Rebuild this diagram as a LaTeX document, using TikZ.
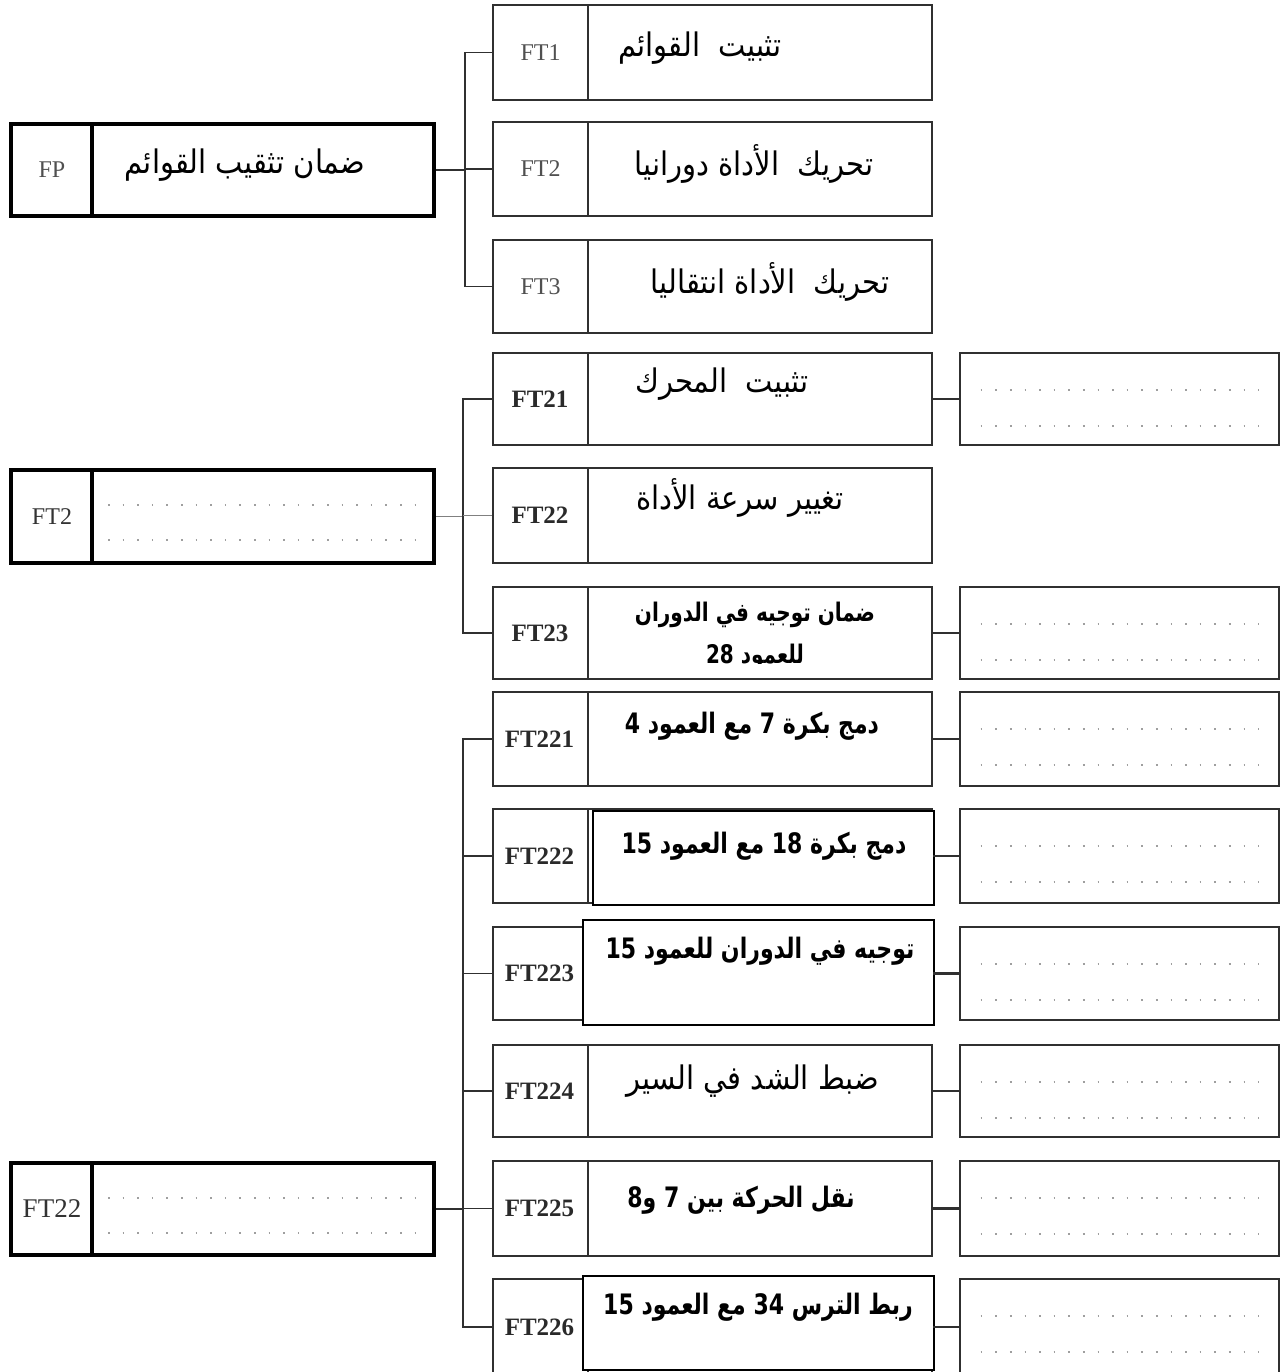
\documentclass[tikz,border=0pt]{standalone}
\usepackage{fontspec}
\usepackage{graphicx}
\usetikzlibrary{calc}
\TeXXeTstate=1
\newfontfamily\arabicfont[Script=Arabic]{DejaVu Sans}
\newfontfamily\lblfont{Liberation Serif}
\newcommand{\artxt}[1]{\scalebox{1}[1.12]{\arabicfont\beginR #1\endR}}
\newcommand{\arbtxt}[1]{\scalebox{1}[1.28]{\arabicfont\bfseries\beginR #1\endR}}
\definecolor{lgray}{HTML}{505050}
\definecolor{dgray}{HTML}{2A2A2A}
\definecolor{lnc}{HTML}{303030}
\tikzset{
  bigcell/.style={draw=black, line width=4pt, inner sep=0pt},
  midcell/.style={draw=lnc, line width=2pt, inner sep=0pt},
  rbox/.style={draw=lnc, line width=2.6pt, inner sep=0pt, minimum width=319pt},
  overlay/.style={draw=black, fill=white, line width=1.3pt},
  lblA/.style={font=\lblfont\fontsize{24}{28}\selectfont, text=lgray, inner sep=0pt},
  lblB/.style={font=\lblfont\bfseries\fontsize{25}{29}\selectfont, text=dgray, inner sep=0pt},
  artext/.style={font=\fontsize{29}{34}\selectfont, inner sep=0pt},
  arbold/.style={font=\fontsize{22}{28}\selectfont, inner sep=0pt},
  conn/.style={draw=lnc, line width=1.5pt},
  rconn/.style={draw=lnc, line width=2.6pt},
  dotrow/.style={draw=gray!75, line width=1.6pt, dash pattern=on 1.6pt off 13pt},
}
\begin{document}
\begin{tikzpicture}[x=1pt,y=-1pt]
\clip (0,0) rectangle (1283,1372);
\fill[white] (0,0) rectangle (1283,1372);
% ---------- left boxes
\node[bigcell, minimum width=81pt, minimum height=92pt] (fpl) at (51.5,170) {};
\node[bigcell, minimum width=342pt, minimum height=92pt] (fpt) at (263,170) {};
\node[bigcell, minimum width=81pt, minimum height=93pt] (ft2ml) at (51.5,516.5) {};
\node[bigcell, minimum width=342pt, minimum height=93pt] (ft2mt) at (263,516.5) {};
\node[bigcell, minimum width=81pt, minimum height=92pt] (ft22ml) at (51.5,1209) {};
\node[bigcell, minimum width=342pt, minimum height=92pt] (ft22mt) at (263,1209) {};
% ---------- middle boxes
\foreach \nm/\cy/\h in {ft1/52.5/95, ft2/169/94, ft3/286.5/93, ft21/399/92, ft22/515.5/95, ft23/633/92,
  ft221/739/94, ft222/856/94, ft223/973.5/93, ft224/1091/92, ft225/1208.5/95, ft226/1327/96}{
  \node[midcell, minimum width=95pt, minimum height=\h pt] (\nm l) at (540.5,\cy) {};
  \node[midcell, minimum width=344pt, minimum height=\h pt] (\nm t) at (760,\cy) {};
}
% ---------- right boxes
\node[rbox, minimum height=92pt] (r21) at (1119.5,399) {};
\node[rbox, minimum height=92pt] (r23) at (1119.5,633) {};
\node[rbox, minimum height=94pt] (r221) at (1119.5,739) {};
\node[rbox, minimum height=94pt] (r222) at (1119.5,856) {};
\node[rbox, minimum height=93pt] (r223) at (1119.5,973.5) {};
\node[rbox, minimum height=92pt] (r224) at (1119.5,1091) {};
\node[rbox, minimum height=95pt] (r225) at (1119.5,1208.5) {};
\node[rbox, minimum height=96pt] (r226) at (1119.5,1327) {};
% ---------- overlay boxes
\draw[overlay] (593,811) rectangle (934,905);
\draw[overlay] (583,920) rectangle (934,1025);
\draw[overlay] (583,1276) rectangle (934,1370);
% ---------- dotted rows
\foreach \n in {r21,r23,r221,r222,r223,r224,r225,r226}{
  \draw[dotrow] ($(\n.north west)+(22,38)$) -- ($(\n.north east)+(-22,38)$);
  \draw[dotrow] ($(\n.north west)+(22,74)$) -- ($(\n.north east)+(-22,74)$);
}
\foreach \n in {ft2mt,ft22mt}{
  \draw[dotrow] ($(\n.north west)+(18,37)$) -- ($(\n.north east)+(-20,37)$);
  \draw[dotrow] ($(\n.north west)+(18,72)$) -- ($(\n.north east)+(-20,72)$);
}
% ---------- connectors
\coordinate (busA) at (465,170);
\coordinate (busB) at (463,516.5);
\coordinate (busC) at (463,1209);
\draw[conn] (fpt.east) -- (busA);
\draw[conn] (ft1l.west) -| (busA) |- (ft3l.west);
\draw[conn] (ft2l.west) -- (ft2l.west -| busA);
\draw[draw=gray, line width=1pt] (ft2mt.east) -- (busB);
\draw[conn] (ft21l.west) -| (busB) |- (ft23l.west);
\draw[draw=gray, line width=1pt] (ft22l.west) -- (ft22l.west -| busB);
\draw[conn] (ft22mt.east) -- (busC);
\draw[conn] (ft221l.west) -| (busC) |- (ft226l.west);
\foreach \n in {ft222,ft223,ft224,ft225}{
  \draw[conn] (\n l.west) -- (\n l.west -| busC);
}
\foreach \a/\b in {ft21t/r21, ft23t/r23, ft221t/r221, ft222t/r222, ft223t/r223, ft224t/r224, ft225t/r225, ft226t/r226}{
  \draw[rconn] (\a.east) -- (\b.west);
}
% ---------- labels
\node[lblA] (fplab) at (52,170) {FP};
\node[lblA, text=black!80] (ft2mlab) at (52,516.5) {FT2};
\node[lblA, text=black!80, font=\lblfont\fontsize{27}{30}\selectfont] (ft22mlab) at (52,1209) {FT22};
\node[lblA] (ft1lab) at (540.5,52.5) {FT1};
\node[lblA] (ft2lab) at (540.5,169) {FT2};
\node[lblA] (ft3lab) at (540.5,286.5) {FT3};
\node[lblB] (ft21lab) at (540,399) {FT21};
\node[lblB] (ft22lab) at (540,515.5) {FT22};
\node[lblB] (ft23lab) at (540,633) {FT23};
\node[lblB] (ft221lab) at (539.5,739) {FT221};
\node[lblB] (ft222lab) at (539.5,856) {FT222};
\node[lblB] (ft223lab) at (539.5,973.5) {FT223};
\node[lblB] (ft224lab) at (539.5,1091) {FT224};
\node[lblB] (ft225lab) at (539.5,1208.5) {FT225};
\node[lblB] (ft226lab) at (539.5,1327) {FT226};
% ---------- Arabic texts
\node[artext] (fptx) at (245,165) {\artxt{ضمان تثقيب القوائم}};
\node[artext] (ft1tx) at (700,48) {\artxt{تثبيت~~القوائم}};
\node[artext] (ft2tx) at (754,164) {\artxt{تحريك~~الأداة دورانيا}};
\node[artext] (ft3tx) at (770,282) {\artxt{تحريك~~الأداة انتقاليا}};
\node[artext] (ft21tx) at (722,384) {\artxt{تثبيت~~المحرك}};
\node[artext] (ft22tx) at (740,498) {\artxt{تغيير سرعة الأداة}};
\node[arbold, font=\fontsize{20}{26}\selectfont] (ft23tx) at (755,615) {\arbtxt{ضمان توجيه في الدوران}};
\begin{scope}
\clip (588,587) rectangle (932,663);
\node[arbold, font=\fontsize{20}{26}\selectfont] (ft23tx2) at (755,657) {\arbtxt{للعمود 28}};
\end{scope}
\node[arbold] (ft221tx) at (752,726) {\arbtxt{دمج بكرة 7 مع العمود 4}};
\node[arbold] (ft222tx) at (764,846) {\arbtxt{دمج بكرة 18 مع العمود 15}};
\node[arbold] (ft223tx) at (760,951) {\arbtxt{توجيه في الدوران للعمود 15}};
\node[artext] (ft224tx) at (753,1081) {\artxt{ضبط الشد في السير}};
\node[arbold] (ft225tx) at (741,1200) {\arbtxt{نقل الحركة بين 7 و8}};
\node[arbold] (ft226tx) at (758,1307) {\arbtxt{ربط الترس 34 مع العمود 15}};
\end{tikzpicture}
\end{document}
